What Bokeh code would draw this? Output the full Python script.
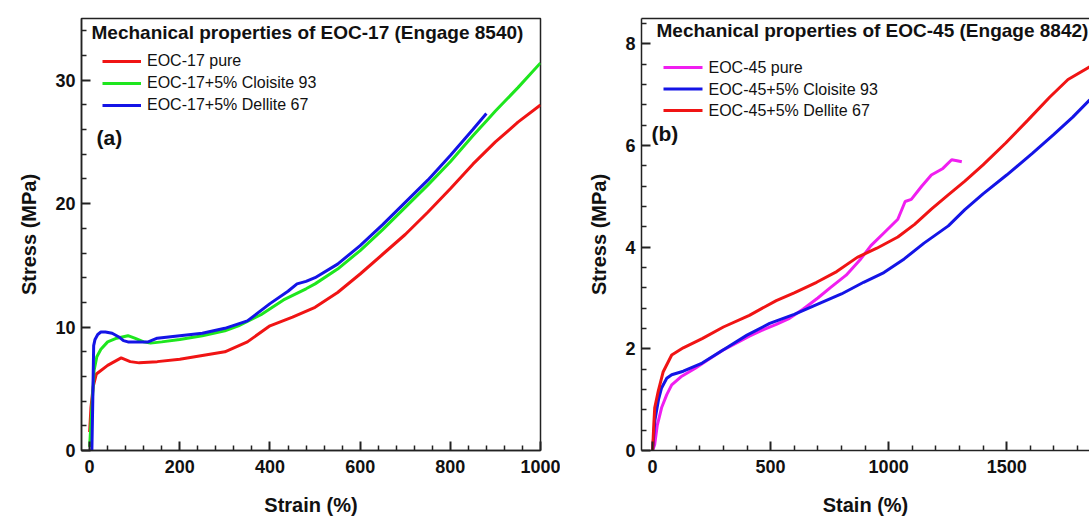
from bokeh.plotting import figure
from bokeh.layouts import row
from bokeh.models import FixedTicker, Label, Legend, LegendItem, LinearAxis, Range1d, BoxAnnotation
from bokeh.embed import file_html
from bokeh.resources import INLINE

# ---------------- data: panel (a) EOC-17 ----------------
a_pure_strain = [0, 3, 8, 15, 40, 70, 90, 110, 150, 200, 250, 300, 350, 400, 450, 500,
                 550, 600, 650, 700, 750, 800, 850, 900, 950, 1000]
a_pure_stress = [1.5, 3.5, 5.2, 6.2, 6.9, 7.5, 7.2, 7.1, 7.2, 7.4, 7.7, 8.0, 8.8, 10.1, 10.8, 11.6,
                 12.8, 14.3, 15.9, 17.5, 19.3, 21.2, 23.2, 25.0, 26.6, 28.0]

a_c93_strain = [0, 5, 10, 16, 25, 40, 60, 85, 100, 120, 135, 160, 200, 250, 300, 330, 380, 430,
                480, 500, 550, 600, 650, 700, 750, 800, 850, 880, 900, 950, 1000]
a_c93_stress = [0.3, 3.5, 6.5, 7.6, 8.2, 8.8, 9.1, 9.3, 9.1, 8.8, 8.7, 8.8, 9.0, 9.3, 9.7, 10.1, 11.0, 12.2,
                13.1, 13.5, 14.7, 16.2, 17.9, 19.7, 21.5, 23.4, 25.5, 26.7, 27.5, 29.4, 31.4]

a_d67_strain = [5, 7, 9, 12, 18, 25, 35, 50, 65, 75, 85, 100, 130, 150, 200, 250, 300, 350, 400,
                440, 460, 480, 500, 550, 600, 650, 700, 750, 800, 850, 880]
a_d67_stress = [0, 4.0, 8.5, 9.0, 9.4, 9.6, 9.6, 9.5, 9.2, 8.9, 8.8, 8.8, 8.8, 9.1, 9.3, 9.5, 9.9, 10.5, 11.9,
                12.9, 13.5, 13.7, 14.0, 15.1, 16.6, 18.3, 20.1, 21.9, 23.9, 26.0, 27.3]

a_labels = ["EOC-17 pure", "EOC-17+5% Cloisite 93", "EOC-17+5% Dellite 67"]

# ---------------- data: panel (b) EOC-45 ----------------
b_pure_strain = [0, 9, 20, 38, 60, 81, 120, 181, 240, 296, 350, 410, 470, 524, 580, 637, 700, 752,
                 820, 882, 925, 982, 1039, 1070, 1096, 1140, 1181, 1230, 1267, 1290, 1310]
b_pure_stress = [0, 0.12, 0.5, 0.84, 1.1, 1.29, 1.45, 1.62, 1.80, 1.97, 2.10, 2.25, 2.38, 2.48, 2.60, 2.78, 3.0, 3.2,
                 3.45, 3.77, 4.03, 4.29, 4.55, 4.9, 4.94, 5.2, 5.42, 5.55, 5.72, 5.7, 5.68]

b_c93_strain = [0, 10, 25, 38, 60, 81, 130, 210, 324, 400, 496, 600, 695, 800, 894, 980, 1066, 1150,
                1253, 1323, 1400, 1500, 1610, 1700, 1780, 1852]
b_c93_stress = [0, 0.6, 1.0, 1.23, 1.42, 1.49, 1.56, 1.72, 2.05, 2.27, 2.50, 2.68, 2.87, 3.08, 3.31, 3.50, 3.77, 4.08,
                4.42, 4.74, 5.05, 5.42, 5.85, 6.22, 6.56, 6.90]

b_d67_strain = [0, 5, 9, 24, 45, 81, 130, 210, 300, 410, 524, 600, 695, 780, 867, 950, 1039, 1110,
                1181, 1250, 1323, 1400, 1496, 1590, 1682, 1760, 1852]
b_d67_stress = [0, 0.5, 0.84, 1.17, 1.55, 1.88, 2.02, 2.20, 2.43, 2.66, 2.95, 3.10, 3.31, 3.52, 3.80, 3.98, 4.20, 4.45,
                4.75, 5.02, 5.30, 5.62, 6.05, 6.5, 6.95, 7.3, 7.55]

b_labels = ["EOC-45 pure", "EOC-45+5% Cloisite 93", "EOC-45+5% Dellite 67"]

a_xticks = [0, 200, 400, 600, 800, 1000]
a_xminor = [40, 80, 120, 160, 240, 280, 320, 360, 440, 480, 520, 560, 640, 680, 720, 760, 840, 880, 920, 960]
a_yticks = [0, 10, 20, 30]
a_yminor = [2, 4, 6, 8, 12, 14, 16, 18, 22, 24, 26, 28, 32, 34]

b_xticks = [0, 500, 1000, 1500]
b_xminor = [100, 200, 300, 400, 600, 700, 800, 900, 1100, 1200, 1300, 1400, 1600, 1700, 1800]
b_yticks = [0, 2, 4, 6, 8]
b_yminor = [0.4, 0.8, 1.2, 1.6, 2.4, 2.8, 3.2, 3.6, 4.4, 4.8, 5.2, 5.6, 6.4, 6.8, 7.2, 7.6, 8.4]

FONT = "Liberation Sans"
RED = "#f01414"
GREEN = "#1ee61e"
BLUE = "#1414e6"
MAGENTA = "#f01ef0"
AXC = "#222222"


def style(p, xlabel, xt, xm, yt, ym):
    p.xgrid.visible = False
    p.ygrid.visible = False
    p.xaxis.ticker = FixedTicker(ticks=xt, minor_ticks=xm)
    p.yaxis.ticker = FixedTicker(ticks=yt, minor_ticks=ym)
    p.xaxis.axis_label = xlabel
    p.yaxis.axis_label = "Stress (MPa)"
    for ax in (p.xaxis, p.yaxis):
        ax.axis_line_color = AXC
        ax.axis_line_width = 1.5
        ax.major_tick_line_color = AXC
        ax.minor_tick_line_color = AXC
        ax.major_tick_line_width = 2
        ax.minor_tick_line_width = 1.5
        ax.major_tick_in = 9
        ax.major_tick_out = 0
        ax.minor_tick_in = 5
        ax.minor_tick_out = 0
        ax.major_label_text_font = FONT
        ax.major_label_text_font_style = "bold"
        ax.major_label_text_font_size = "18px"
        ax.major_label_text_color = "#111111"
        ax.axis_label_text_font = FONT
        ax.axis_label_text_font_style = "bold"
        ax.axis_label_text_font_size = "20px"
        ax.axis_label_text_color = "#111111"
    p.xaxis.major_label_standoff = 9
    p.xaxis.axis_label_standoff = 18
    p.yaxis.major_label_standoff = 6
    p.yaxis.axis_label_standoff = 12


def add_legend(p, renderers, labels, x, y):
    leg = Legend(items=[LegendItem(label=l, renderers=[r]) for l, r in zip(labels, renderers)],
                 location=(x, y), background_fill_alpha=0, border_line_color=None,
                 padding=0, margin=0, spacing=2, glyph_width=39, glyph_height=20,
                 label_height=20, label_standoff=6, label_text_font=FONT,
                 label_text_font_size="16px", label_text_color="#111111")
    p.add_layout(leg)


def add_manual_legend(p, colors, labels, x, y_first, step):
    for i, (c, l) in enumerate(zip(colors, labels)):
        yc = y_first - i * step
        p.add_layout(BoxAnnotation(left=x, right=x + 39, bottom=yc - 1.5, top=yc + 1.5,
                                   left_units="screen", right_units="screen",
                                   bottom_units="screen", top_units="screen",
                                   fill_color=c, fill_alpha=1, line_color=None))
        p.add_layout(Label(x=x + 45, y=yc, x_units="screen", y_units="screen", text=l,
                           text_font=FONT, text_font_size="16px", text_color="#111111",
                           text_baseline="middle", text_align="left"))


def add_text(p, text, x, y, size):
    p.add_layout(Label(x=x, y=y, x_units="screen", y_units="screen", text=text,
                       text_font=FONT, text_font_style="bold", text_font_size=size,
                       text_color="#111111", text_baseline="middle", text_align="left"))


# ---------------- panel (a) ----------------
p1 = figure(width=560, height=521, x_range=Range1d(-18, 1000), y_range=Range1d(0, 35),
            output_backend="svg", toolbar_location=None,
            min_border_left=81, min_border_right=20, min_border_top=14, min_border_bottom=71)
p1.outline_line_color = AXC
p1.outline_line_width = 1.5
style(p1, "Strain (%)", a_xticks, a_xminor, a_yticks, a_yminor)
r1 = p1.line(a_pure_strain, a_pure_stress, line_color=RED, line_width=3)
r2 = p1.line(a_c93_strain, a_c93_stress, line_color=GREEN, line_width=3)
r3 = p1.line(a_d67_strain, a_d67_stress, line_color=BLUE, line_width=3)
add_legend(p1, [r1, r2, r3], a_labels, 21, 335)
add_text(p1, "Mechanical properties of EOC-17 (Engage 8540)", 10, 418, "19px")
add_text(p1, "(a)", 15, 313, "21px")

# ---------------- panel (b) ----------------
p2 = figure(width=529, height=521, x_range=Range1d(-47, 1851), y_range=Range1d(0, 8.5),
            output_backend="svg", toolbar_location=None,
            min_border_left=81, min_border_right=0, min_border_top=18, min_border_bottom=68)
p2.outline_line_color = None
style(p2, "Stain (%)", b_xticks, b_xminor, b_yticks, b_yminor)
top_axis = LinearAxis(ticker=FixedTicker(ticks=[]), axis_line_color=AXC, axis_line_width=1.5,
                      major_tick_line_color=None, minor_tick_line_color=None,
                      major_label_text_font_size="0px")
p2.add_layout(top_axis, "above")
q1 = p2.line(b_pure_strain, b_pure_stress, line_color=MAGENTA, line_width=3)
q2 = p2.line(b_c93_strain, b_c93_stress, line_color=BLUE, line_width=3)
q3 = p2.line(b_d67_strain, b_d67_stress, line_color=RED, line_width=3)
add_manual_legend(p2, [MAGENTA, BLUE, RED], b_labels, 22, 383, 21.5)
add_text(p2, "Mechanical properties of EOC-45 (Engage 8842)", 15, 420, "19px")
add_text(p2, "(b)", 10, 317, "21px")

layout = row(p1, p2)
open("out.html", "w").write(file_html(layout, INLINE))
